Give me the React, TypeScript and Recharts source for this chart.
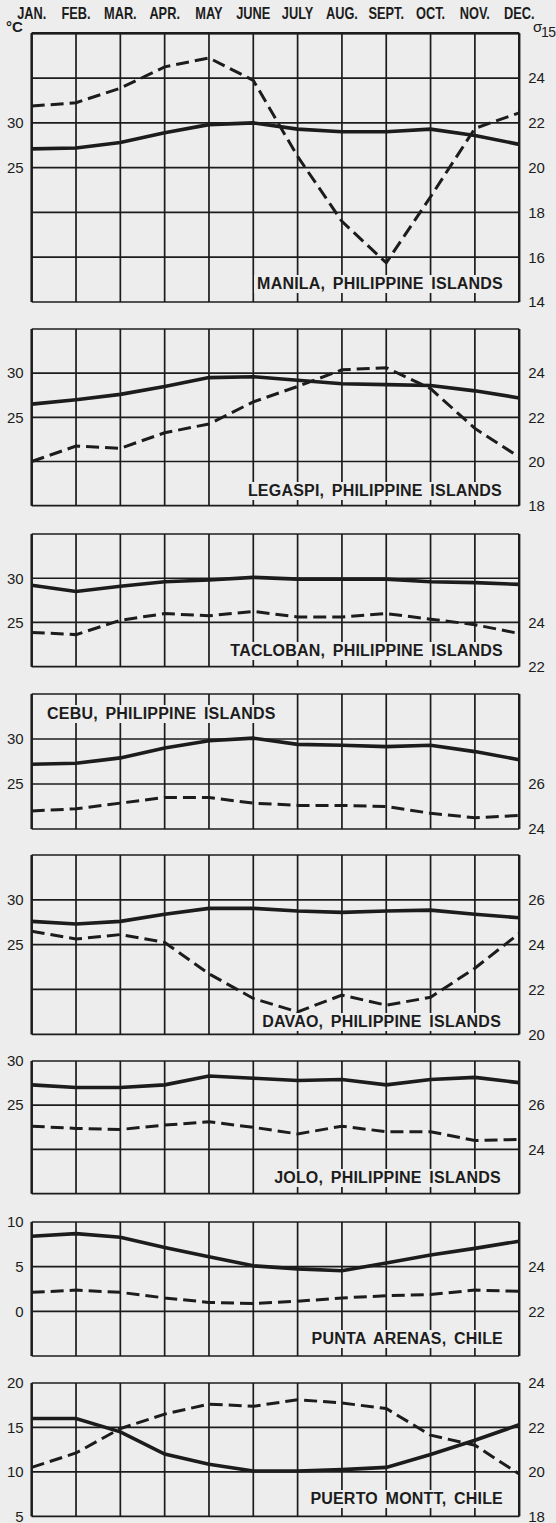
import { CartesianGrid, Line, LineChart, XAxis, YAxis } from "recharts";

const BG = "#ededed";
const INK = "#1c1c1c";
const NUM_FONT = '"Liberation Sans", Arial, sans-serif';
const NARROW_FONT = '"Liberation Sans Narrow", "Liberation Sans", Arial, sans-serif';

const MONTHS = ["JAN.", "FEB.", "MAR.", "APR.", "MAY", "JUNE", "JULY", "AUG.", "SEPT.", "OCT.", "NOV.", "DEC."];
const MONTH_IDX = [0, 1, 2, 3, 4, 5, 6, 7, 8, 9, 10, 11];

// solid = temperature (°C, left), dashed = sigma-15 (right)
const MANILA_T = [27.1, 27.2, 27.8, 28.9, 29.8, 30.0, 29.3, 29.0, 29.0, 29.3, 28.6, 27.6];
const MANILA_S = [22.75, 22.9, 23.55, 24.5, 24.9, 23.9, 20.5, 17.6, 15.75, 18.7, 21.75, 22.45];
const LEGASPI_T = [26.5, 27.0, 27.6, 28.5, 29.5, 29.6, 29.2, 28.8, 28.7, 28.6, 28.0, 27.2];
const LEGASPI_S = [20.0, 20.7, 20.6, 21.3, 21.7, 22.7, 23.4, 24.15, 24.25, 23.3, 21.5, 20.2];
const TACLOBAN_T = [29.2, 28.5, 29.1, 29.6, 29.8, 30.1, 29.9, 29.9, 29.9, 29.6, 29.5, 29.3];
const TACLOBAN_S = [23.55, 23.45, 24.1, 24.4, 24.3, 24.5, 24.25, 24.25, 24.4, 24.15, 23.9, 23.5];
const CEBU_T = [27.2, 27.3, 27.9, 29.0, 29.8, 30.1, 29.4, 29.3, 29.15, 29.3, 28.6, 27.7];
const CEBU_S = [24.8, 24.9, 25.15, 25.4, 25.4, 25.15, 25.05, 25.05, 25.0, 24.7, 24.5, 24.6];
const DAVAO_T = [27.6, 27.3, 27.6, 28.4, 29.05, 29.05, 28.75, 28.6, 28.75, 28.85, 28.4, 28.0];
const DAVAO_S = [24.6, 24.25, 24.45, 24.1, 22.7, 21.6, 21.0, 21.75, 21.3, 21.65, 22.95, 24.5];
const JOLO_T = [27.3, 27.0, 27.0, 27.3, 28.3, 28.05, 27.8, 27.9, 27.3, 27.9, 28.15, 27.55];
const JOLO_S = [25.05, 24.95, 24.9, 25.1, 25.25, 25.0, 24.7, 25.05, 24.8, 24.8, 24.4, 24.45];
const PUNTA_T = [8.4, 8.7, 8.3, 7.15, 6.1, 5.1, 4.75, 4.55, 5.4, 6.3, 7.05, 7.85];
const PUNTA_S = [22.85, 22.95, 22.85, 22.6, 22.4, 22.35, 22.45, 22.6, 22.7, 22.75, 22.95, 22.9];
const PUERTO_T = [16.0, 16.0, 14.5, 12.0, 10.85, 10.1, 10.1, 10.25, 10.5, 11.95, 13.55, 15.3];
const PUERTO_S = [20.2, 20.85, 21.95, 22.6, 23.05, 22.95, 23.25, 23.1, 22.85, 21.65, 21.2, 19.9];

const PANELS = [
  { name: "MANILA, PHILIPPINE ISLANDS", temp: MANILA_T, sigma: MANILA_S, top: 33.3, bottom: 302,
    tDomain: [10, 40], tTicks: [10, 15, 20, 25, 30, 35, 40], tShown: [25, 30],
    sDomain: [14, 26], sTicks: [14, 16, 18, 20, 22, 24], labelTop: 274.7, labelRight: 503 },
  { name: "LEGASPI, PHILIPPINE ISLANDS", temp: LEGASPI_T, sigma: LEGASPI_S, top: 329.3, bottom: 506,
    tDomain: [15, 35], tTicks: [15, 20, 25, 30, 35], tShown: [25, 30],
    sDomain: [18, 26], sTicks: [18, 20, 22, 24], labelTop: 482, labelRight: 502 },
  { name: "TACLOBAN, PHILIPPINE ISLANDS", temp: TACLOBAN_T, sigma: TACLOBAN_S, top: 534, bottom: 666.7,
    tDomain: [20, 35], tTicks: [20, 25, 30, 35], tShown: [25, 30],
    sDomain: [22, 28], sTicks: [22, 24], labelTop: 642, labelRight: 503 },
  { name: "CEBU, PHILIPPINE ISLANDS", temp: CEBU_T, sigma: CEBU_S, top: 694, bottom: 829,
    tDomain: [20, 35], tTicks: [20, 25, 30, 35], tShown: [25, 30],
    sDomain: [24, 30], sTicks: [24, 26], labelTop: 704.7, labelLeft: 47 },
  { name: "DAVAO, PHILIPPINE ISLANDS", temp: DAVAO_T, sigma: DAVAO_S, top: 855, bottom: 1034.3,
    tDomain: [15, 35], tTicks: [15, 20, 25, 30, 35], tShown: [25, 30],
    sDomain: [20, 28], sTicks: [20, 22, 24, 26], labelTop: 1012.7, labelRight: 501 },
  { name: "JOLO, PHILIPPINE ISLANDS", temp: JOLO_T, sigma: JOLO_S, top: 1060.7, bottom: 1193.3,
    tDomain: [15, 30], tTicks: [15, 20, 25, 30], tShown: [25, 30],
    sDomain: [22, 28], sTicks: [24, 26], labelTop: 1168.7, labelRight: 501 },
  { name: "PUNTA ARENAS, CHILE", temp: PUNTA_T, sigma: PUNTA_S, top: 1221.7, bottom: 1355.7,
    tDomain: [-5, 10], tTicks: [-5, 0, 5, 10], tShown: [0, 5, 10],
    sDomain: [20, 26], sTicks: [22, 24], labelTop: 1330, labelRight: 503 },
  { name: "PUERTO MONTT, CHILE", temp: PUERTO_T, sigma: PUERTO_S, top: 1382.7, bottom: 1516,
    tDomain: [5, 20], tTicks: [5, 10, 15, 20], tShown: [5, 10, 15, 20],
    sDomain: [18, 24], sTicks: [18, 20, 22, 24], labelTop: 1490, labelRight: 503 },
];

const W = 556;
const PLOT_LEFT = 31.7;
const PLOT_RIGHT = 519.2;
const PAD = 12;

function MonthTick(props: any) {
  const { x, y, payload } = props;
  return (
    <text transform={`translate(${x} ${y}) scale(0.8 1)`} textAnchor="middle"
      fontFamily={NARROW_FONT} fontWeight={700} fontSize={16} fill={INK}>
      {MONTHS[payload.value]}
    </text>
  );
}

function NumTick(props: any) {
  const { x, y, payload, shown, anchor } = props;
  if (shown && !shown.includes(payload.value)) return <g />;
  return (
    <text x={x} y={y} dy={5.3} textAnchor={anchor} fontFamily={NUM_FONT} fontSize={15} fill={INK}>
      {payload.value}
    </text>
  );
}

const NoTick = () => <g />;

function Panel({ p, first }: { p: (typeof PANELS)[number]; first: boolean }) {
  const data = MONTH_IDX.map((m) => ({ m, t: p.temp[m], s: p.sigma[m] }));
  const plotH = p.bottom - p.top;
  const topH = first ? p.top : 0;
  const chartTop = first ? 0 : p.top - PAD;
  const height = first ? p.bottom + PAD : plotH + 2 * PAD;
  return (
    <div style={{ position: "absolute", left: 0, top: chartTop }}>
      <LineChart width={W} height={height} data={data}
        margin={{ top: first ? 0 : PAD, right: 0, bottom: PAD, left: 0 }}>
        <CartesianGrid xAxisId="b" yAxisId="t" stroke={INK} strokeWidth={1.7} />
        <XAxis xAxisId="b" dataKey="m" type="number" domain={[0, 11]} ticks={MONTH_IDX}
          orientation="bottom" height={0} interval={0} tick={NoTick} tickLine={false}
          axisLine={{ stroke: INK, strokeWidth: 2.4 }} />
        <XAxis xAxisId="top" dataKey="m" type="number" domain={[0, 11]} ticks={MONTH_IDX}
          orientation="top" height={topH} interval={0} tickLine={false} tickSize={0} tickMargin={14}
          tick={first ? <MonthTick /> : NoTick}
          axisLine={{ stroke: INK, strokeWidth: 2.4 }} />
        <YAxis yAxisId="t" orientation="left" width={PLOT_LEFT} type="number"
          domain={p.tDomain} ticks={p.tTicks} interval={0} tickLine={false}
          axisLine={{ stroke: INK, strokeWidth: 2.4 }}
          tick={(tp: any) => <NumTick {...tp} shown={p.tShown} anchor="end" />} />
        <YAxis yAxisId="s" orientation="right" width={W - PLOT_RIGHT} type="number"
          domain={p.sDomain} ticks={p.sTicks} interval={0} tickLine={false} tickMargin={3}
          axisLine={{ stroke: INK, strokeWidth: 2.4 }}
          tick={(tp: any) => <NumTick {...tp} anchor="start" />} />
        <Line xAxisId="b" yAxisId="t" dataKey="t" type="linear" stroke={INK} strokeWidth={3.6}
          dot={false} isAnimationActive={false} />
        <Line xAxisId="b" yAxisId="s" dataKey="s" type="linear" stroke={INK} strokeWidth={3}
          strokeDasharray="13 6" dot={false} isAnimationActive={false} />
      </LineChart>
      <div style={{
        position: "absolute",
        top: p.labelTop - chartTop,
        ...(p.labelLeft !== undefined
          ? { left: p.labelLeft - 3, paddingLeft: 3, paddingRight: 2 }
          : { right: W - p.labelRight - 2, paddingLeft: 3, paddingRight: 2 }),
        background: BG, color: INK, fontFamily: NUM_FONT, fontWeight: 700, fontSize: 16,
        lineHeight: "18px", letterSpacing: 0.2, wordSpacing: 3, whiteSpace: "pre",
      }}>
        {p.name}
      </div>
    </div>
  );
}

export default function App() {
  return (
    <div style={{ position: "relative", width: W, height: 1523, background: BG }}>
      <style>{`html, body { margin: 0; background: ${BG}; }`}</style>
      {PANELS.map((p, i) => <Panel key={p.name} p={p} first={i === 0} />)}
      <svg width={W} height={40} style={{ position: "absolute", left: 0, top: 0 }}>
        <text x={6} y={32} fontFamily={NARROW_FONT} fontWeight={700} fontSize={15} fill={INK}>°C</text>
        <text x={533} y={32} fontFamily={NUM_FONT} fontSize={15} fill={INK}>σ</text>
        <text x={541} y={36.5} fontFamily={NUM_FONT} fontSize={14} letterSpacing={-0.5} fill={INK}>15</text>
      </svg>
    </div>
  );
}
